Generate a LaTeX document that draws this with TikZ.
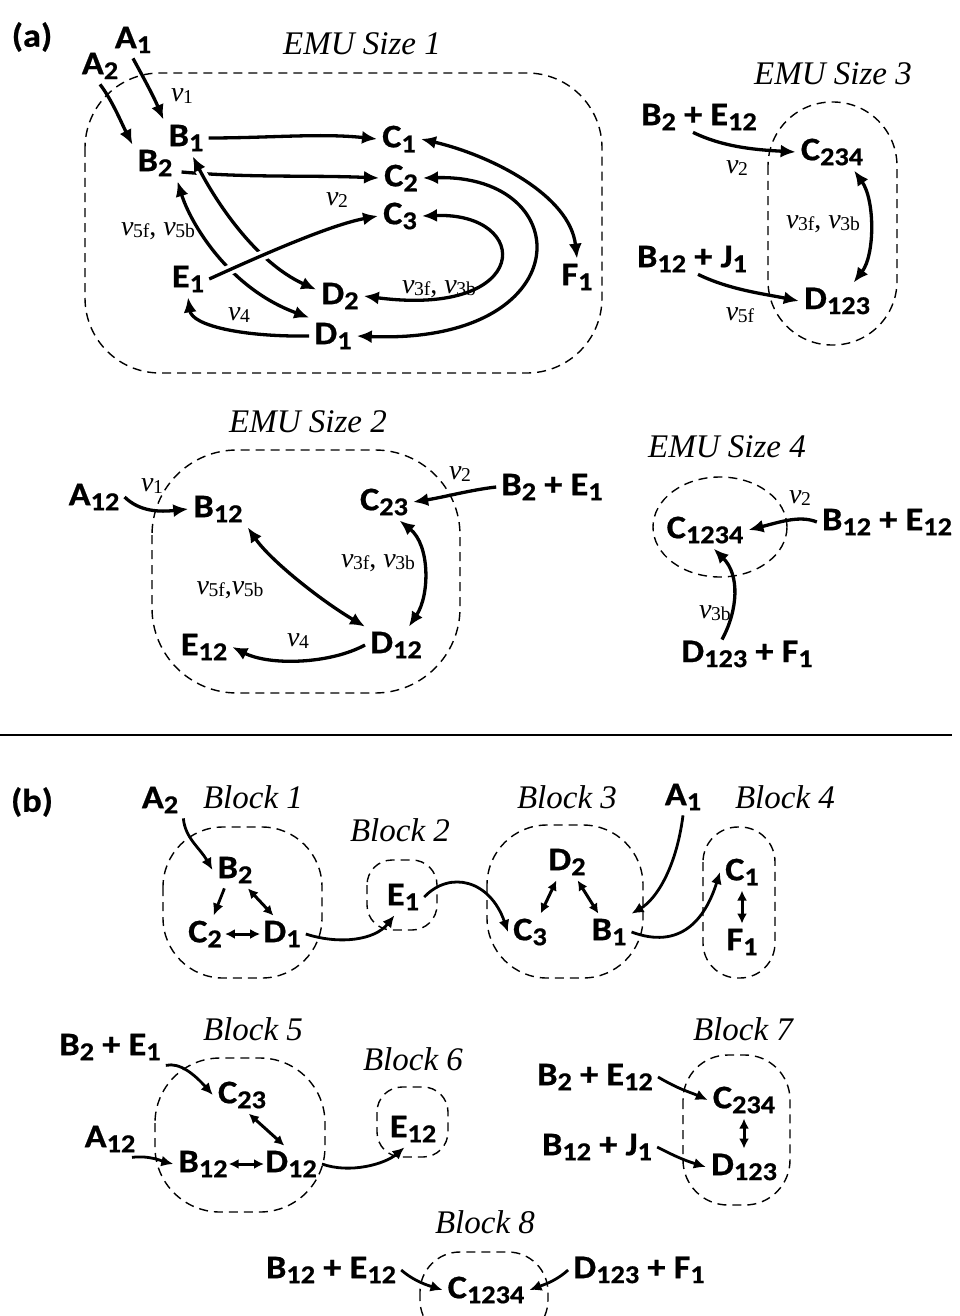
\documentclass[tikz,border=0pt]{standalone}
\usepackage{fontspec}
\usepackage{graphicx}
\newfontfamily\calb{Carlito}[FakeStretch=1.1, BoldFeatures={FakeBold=0.6}]
\newfontfamily\tms{Liberation Serif}
\usetikzlibrary{arrows.meta,shapes.geometric,calc}
\newcommand\lsub[1]{\raisebox{-0.15em}{\scalebox{0.78}{#1}}}
\newcommand\vv[1]{\textit{v}\kern-0.5pt\raisebox{-0.08em}{\scalebox{0.7}{#1}}}
\tikzset{
 nd/.style={font=\calb\bfseries\fontsize{33}{35}\selectfont, inner sep=5pt},
 ttl/.style={font=\tms\itshape\fontsize{33}{35}\selectfont, inner sep=1pt},
 vl/.style={font=\tms\fontsize{28}{30}\selectfont, inner sep=1pt},
 ar/.style={line width=3.3pt, -{Latex[length=15pt,width=13pt]}},
 dar/.style={line width=3.3pt, {Latex[length=15pt,width=13pt]}-{Latex[length=15pt,width=13pt]}},
 arb/.style={line width=2.8pt, -{Latex[length=12pt,width=11pt]}},
 darb/.style={line width=3pt, {Latex[length=10pt,width=10pt]}-{Latex[length=10pt,width=10pt]}},
 dbox/.style={draw, line width=1.4pt, dash pattern=on 9pt off 6pt},
 halo/.style={preaction={draw=white, line width=10pt, arrows=-}},
}
\begin{document}
\begin{tikzpicture}[x=1pt,y=-1pt]
\useasboundingbox[fill=white] (0,0) rectangle (959,1316);
% ---------------- (a) EMU size 1
\node[nd] (la) at (32,37) {(a)};
\node[ttl] (t1) at (362,44) {EMU Size 1};
\draw[dbox, rounded corners=75pt] (85,73) rectangle (602,373);
\node[nd] (A1) at (133,40) {A\lsub{1}};
\node[nd] (A2) at (100,66) {A\lsub{2}};
\node[nd] (B1) at (186,138) {B\lsub{1}};
\node[nd] (B2) at (155,163) {B\lsub{2}};
\node[nd] (C1) at (399,139) {C\lsub{1}};
\node[nd] (C2) at (401,178) {C\lsub{2}};
\node[nd] (C3) at (400,216) {C\lsub{3}};
\node[nd] (E1) at (188,279) {E\lsub{1}};
\node[nd] (D2) at (340,296) {D\lsub{2}};
\node[nd] (D1) at (333,336) {D\lsub{1}};
\node[nd] (F1) at (577,277) {F\lsub{1}};
\node[vl] (v1a) at (182,96) {\vv{1}};
\node[vl] (v2a) at (337,200) {\vv{2}};
\node[vl] (v5a) at (158,231) {\vv{5f}, \vv{5b}};
\node[vl] (v4a) at (239,315) {\vv{4}};
\node[vl] (v3a) at (439,289) {\vv{3f}, \vv{3b}};
\draw[ar] (A1.south) .. controls (142,75) and (153,95) .. (B1.north west);
\draw[ar] (A2.south) .. controls (112,100) and (121,122) .. (B2.north west);
\draw[ar] (B1.east) .. controls (270,138) and (320,133) .. (C1.west);
\draw[ar] ($(B2.east)+(4,9)$) .. controls (250,178) and (310,175) .. (C2.west);
\draw[dar,halo] (B1.-70) .. controls (215,200) and (255,262) .. (D2.165);
\draw[dar] (B2.south east) .. controls (190,222) and (228,288) .. (D1.north west);
\draw[ar,halo] (E1.east) .. controls (262,255) and (330,225) .. (C3.west);
\draw[ar] (D1.west) .. controls (240,337) and (192,325) .. (E1.south);
\draw[dar] (C3.east) .. controls (533,212) and (533,318) .. (D2.east);
\draw[dar] (C2.east) .. controls (580,174) and (580,345) .. (D1.east);
\draw[dar] (C1.east) .. controls (490,155) and (570,195) .. (F1.north);
% ---------------- EMU size 3
\node[ttl] (t3) at (833,74) {EMU Size 3};
\draw[dbox, rounded corners=64pt] (768,102) rectangle (897,345);
\node[nd] (BE3) at (699,117) {B\lsub{2} + E\lsub{12}};
\node[nd] (C234) at (832,152) {C\lsub{234}};
\node[nd] (BJ3) at (692,259) {B\lsub{12} + J\lsub{1}};
\node[nd] (D123) at (837,301) {D\lsub{123}};
\node[vl] (v2c) at (737,168) {\vv{2}};
\node[vl] (v3c) at (823,224) {\vv{3f}, \vv{3b}};
\node[vl] (v5c) at (740,315) {\vv{5f}};
\draw[ar] ($(BE3.south)+(-6,-3)$) .. controls (725,148) and (760,150) .. (C234.west);
\draw[ar] ($(BJ3.south)+(6,-3)$) .. controls (730,290) and (765,294) .. (D123.west);
\draw[dar] (C234.-40) .. controls (875,200) and (875,255) .. (D123.48);
% ---------------- EMU size 2
\node[ttl] (t2) at (308,422) {EMU Size 2};
\draw[dbox, rounded corners=85pt] (152,450) rectangle (460,693);
\node[nd] (A12) at (94,497) {A\lsub{12}};
\node[nd] (B12) at (218,509) {B\lsub{12}};
\node[nd] (C23) at (384,502) {C\lsub{23}};
\node[nd] (BE2) at (552,487) {B\lsub{2} + E\lsub{1}};
\node[nd] (E12) at (204,647) {E\lsub{12}};
\node[nd] (D12) at (396,645) {D\lsub{12}};
\node[vl] (v1b) at (152,486) {\vv{1}};
\node[vl] (v2b) at (460,474) {\vv{2}};
\node[vl] (v5b) at (230,590) {\vv{5f},\vv{5b}};
\node[vl] (v3b) at (378,563) {\vv{3f}, \vv{3b}};
\node[vl] (v4b) at (298,641) {\vv{4}};
\draw[ar] (A12.east) .. controls (140,512) and (160,512) .. (B12.west);
\draw[ar] (BE2.west) .. controls (470,490) and (445,497) .. (C23.east);
\draw[dar] (B12.south east) .. controls (270,560) and (320,600) .. (D12.north west);
\draw[dar] (C23.-50) .. controls (430,545) and (430,595) .. (D12.55);
\draw[ar] (D12.west) .. controls (330,664) and (270,666) .. (E12.east);
% ---------------- EMU size 4
\node[ttl] (t4) at (727,447) {EMU Size 4};
\draw[dbox] (720,527) ellipse [x radius=67pt, y radius=50pt];
\node[nd] (C1234) at (705,530) {C\lsub{1234}};
\node[nd] (BE4) at (887,522) {B\lsub{12} + E\lsub{12}};
\node[nd] (DF4) at (747,654) {D\lsub{123} + F\lsub{1}};
\node[vl] (v2d) at (800,498) {\vv{2}};
\node[vl] (v3d) at (715,613) {\vv{3b}};
\draw[ar] (BE4.west) .. controls (800,515) and (780,522) .. (C1234.east);
\draw[ar] ($(DF4.north)+(-25,4)$) .. controls (738,610) and (740,575) .. (C1234.-65);
% ---------------- separator
\draw[line width=1.5pt] (0,735) -- (952,735);
% ---------------- (b)
\node[nd] (lb) at (32,802) {(b)};
% block 1
\node[ttl] (b1t) at (253,797) {Block 1};
\draw[dbox, rounded corners=60pt] (163,827) rectangle (322,978);
\node[nd] (bA2) at (160,800) {A\lsub{2}};
\node[nd] (bB2) at (235,870) {B\lsub{2}};
\node[nd] (bC2) at (205,934) {C\lsub{2}};
\node[nd] (bD1) at (282,934) {D\lsub{1}};
\draw[arb] (bA2.south east) .. controls (185,838) and (200,848) .. (bB2.west);
\draw[arb] (bB2.-120) -- (bC2.65);
\draw[darb] (bB2.-55) -- (bD1.115);
\draw[darb, shorten <=-2pt, shorten >=-2pt] (bC2.east) -- (bD1.west);
% block 2
\node[ttl] (b2t) at (400,830) {Block 2};
\draw[dbox, rounded corners=25pt] (367,860) rectangle (437,930);
\node[nd] (bE1) at (403,897) {E\lsub{1}};
\draw[arb] (bD1.east) .. controls (340,945) and (375,940) .. (bE1.-115);
% block 3
\node[ttl] (b3t) at (567,797) {Block 3};
\draw[dbox, rounded corners=60pt] (487,825) rectangle (643,978);
\node[nd] (bD2) at (567,862) {D\lsub{2}};
\node[nd] (bC3) at (530,932) {C\lsub{3}};
\node[nd] (bB1) at (609,932) {B\lsub{1}};
\node[nd] (bA1) at (683,797) {A\lsub{1}};
\draw[arb] (bE1.east) .. controls (450,870) and (490,880) .. (bC3.west);
\draw[darb] (bC3.60) -- (bD2.-120);
\draw[darb] (bD2.-60) -- (bB1.120);
\draw[arb] (bA1.south) .. controls (676,870) and (655,900) .. (bB1.north east);
% block 4
\node[ttl] (b4t) at (785,797) {Block 4};
\draw[dbox, rounded corners=35pt] (703,827) rectangle (775,978);
\node[nd] (bC1) at (742,872) {C\lsub{1}};
\node[nd] (bF1) at (742,942) {F\lsub{1}};
\draw[darb] (bC1.south) -- (bF1.north);
\draw[arb] (bB1.east) .. controls (680,950) and (705,920) .. (bC1.west);
% block 5
\node[ttl] (b5t) at (253,1029) {Block 5};
\draw[dbox, rounded corners=65pt] (155,1058) rectangle (325,1212);
\node[nd] (bBE1) at (110,1047) {B\lsub{2} + E\lsub{1}};
\node[nd] (bC23) at (242,1095) {C\lsub{23}};
\node[nd] (bA12) at (110,1139) {A\lsub{12}};
\node[nd] (bB12) at (203,1164) {B\lsub{12}};
\node[nd] (bD12) at (291,1164) {D\lsub{12}};
\draw[arb] (bBE1.south east) .. controls (180,1062) and (195,1075) .. (bC23.west);
\draw[arb] ($(bA12.south)+(22,0)$) .. controls (150,1155) and (165,1162) .. (bB12.west);
\draw[darb, shorten <=-4pt, shorten >=-4pt] (bB12.east) -- (bD12.west);
\draw[darb] (bC23.-70) -- (bD12.110);
% block 6
\node[ttl] (b6t) at (413,1059) {Block 6};
\draw[dbox, rounded corners=25pt] (377,1087) rectangle (448,1157);
\node[nd] (bE12) at (413,1129) {E\lsub{12}};
\draw[arb] (bD12.east) .. controls (350,1174) and (385,1164) .. (bE12.-115);
% block 7
\node[ttl] (b7t) at (743,1029) {Block 7};
\draw[dbox, rounded corners=45pt] (683,1055) rectangle (790,1205);
\node[nd] (bBE12) at (595,1077) {B\lsub{2} + E\lsub{12}};
\node[nd] (bC234) at (744,1100) {C\lsub{234}};
\node[nd] (bBJ) at (597,1147) {B\lsub{12} + J\lsub{1}};
\node[nd] (bD123) at (744,1167) {D\lsub{123}};
\draw[arb] (bBE12.east) .. controls (680,1090) and (690,1092) .. (bC234.west);
\draw[arb] (bBJ.east) .. controls (680,1159) and (690,1162) .. (bD123.west);
\draw[darb] (bC234.south) -- (bD123.north);
% block 8
\node[ttl] (b8t) at (485,1222) {Block 8};
\draw[dbox, rounded corners=40pt] (420,1252) rectangle (548,1340);
\node[nd] (bBE8) at (331,1270) {B\lsub{12} + E\lsub{12}};
\node[nd] (bC1234) at (486,1290) {C\lsub{1234}};
\node[nd] (bDF8) at (639,1270) {D\lsub{123} + F\lsub{1}};
\draw[arb] (bBE8.east) .. controls (415,1282) and (430,1286) .. (bC1234.west);
\draw[arb] (bDF8.west) .. controls (555,1282) and (540,1286) .. (bC1234.east);
\end{tikzpicture}
\end{document}
